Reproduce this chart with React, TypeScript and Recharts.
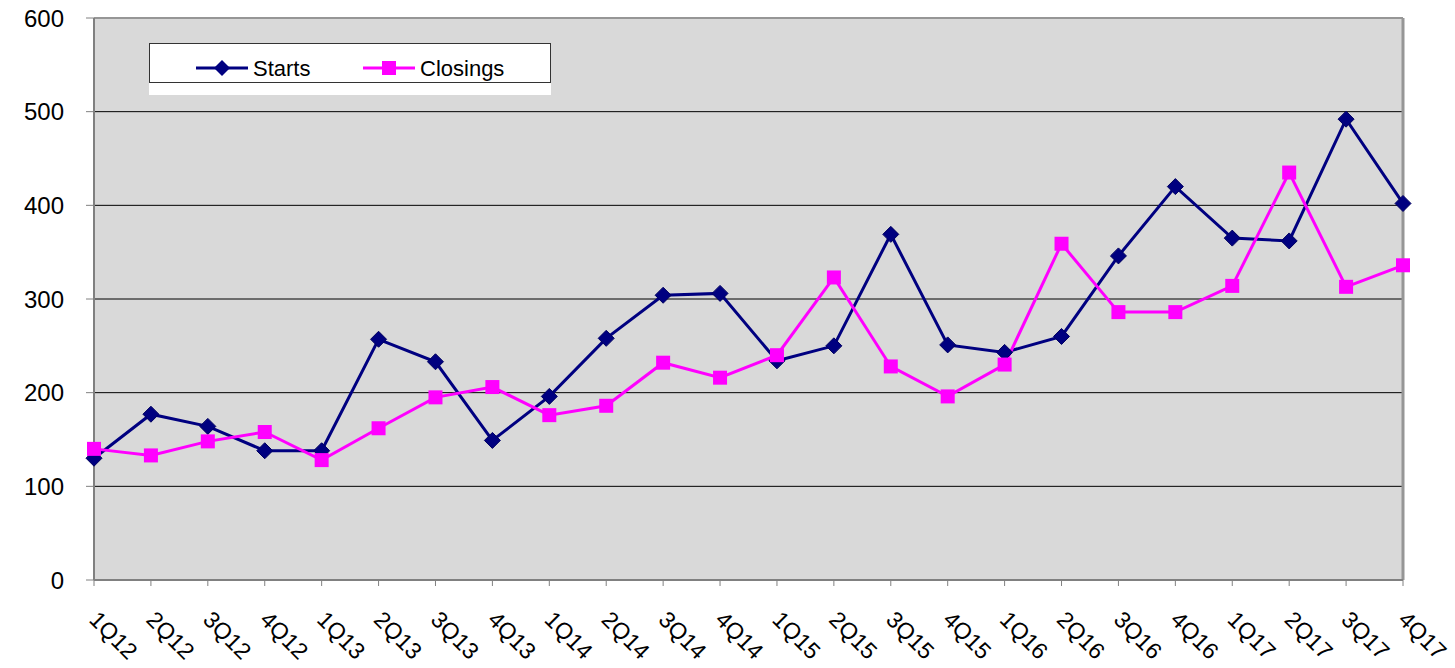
import React from "react"
import {
  CartesianGrid,
  Line,
  LineChart,
  ReferenceLine,
  XAxis,
  YAxis,
} from "recharts"

const quarters = [
  "1Q12", "2Q12", "3Q12", "4Q12",
  "1Q13", "2Q13", "3Q13", "4Q13",
  "1Q14", "2Q14", "3Q14", "4Q14",
  "1Q15", "2Q15", "3Q15", "4Q15",
  "1Q16", "2Q16", "3Q16", "4Q16",
  "1Q17", "2Q17", "3Q17", "4Q17",
]

const starts = [
  130, 177, 164, 138, 138, 257, 233, 149, 196, 258, 304, 306,
  234, 250, 369, 251, 243, 260, 346, 420, 365, 362, 492, 402,
]

const closings = [
  140, 133, 148, 158, 128, 162, 195, 206, 176, 186, 232, 216,
  240, 323, 228, 196, 230, 359, 286, 286, 314, 435, 313, 336,
]

const yTicks = [0, 100, 200, 300, 400, 500, 600]

const data = quarters.map((q, i) => ({ q, starts: starts[i], closings: closings[i] }))

const FONT = "'Liberation Sans', Arial, sans-serif"
const NAVY = "#000080"
const MAGENTA = "#ff00ff"

const Diamond = (props: any) => {
  const { cx, cy, index } = props
  const r = 8
  return (
    <polygon
      key={`d-${index}`}
      points={`${cx},${cy - r} ${cx + r},${cy} ${cx},${cy + r} ${cx - r},${cy}`}
      fill={NAVY}
      stroke="#000060"
      strokeWidth={1}
    />
  )
}

const Square = (props: any) => {
  const { cx, cy, index } = props
  const r = 7
  return <rect key={`s-${index}`} x={cx - r} y={cy - r} width={r * 2} height={r * 2} fill={MAGENTA} />
}

const XTick = (props: any) => {
  const { x, y, payload } = props
  const ax = x - 6
  const ay = y + 33
  return (
    <text
      x={ax}
      y={ay}
      transform={`rotate(45, ${ax}, ${ay})`}
      textAnchor="start"
      fontSize={23}
      fontFamily={FONT}
      fill="#000"
    >
      {payload.value}
    </text>
  )
}

// legend sits inside the plot, drawn over it so it doesn't shrink the plot area
const LegendBox = () => (
  <div
    style={{
      position: "absolute",
      left: 149,
      top: 43,
      width: 402,
      height: 52,
      background: "#fff",
      fontFamily: FONT,
    }}
  >
    <div
      style={{
        position: "absolute",
        left: 0,
        top: 0,
        width: 400,
        height: 38,
        border: "1px solid #333",
      }}
    />
    <svg width={402} height={52} style={{ position: "absolute", left: 0, top: 0 }}>
      <line x1={47} x2={99} y1={25} y2={25} stroke={NAVY} strokeWidth={3} />
      <polygon points="73,17 81,25 73,33 65,25" fill={NAVY} />
      <text x={104} y={33} fontSize={22} fontFamily={FONT} fill="#000">Starts</text>
      <line x1={214} x2={266} y1={25} y2={25} stroke={MAGENTA} strokeWidth={3} />
      <rect x={233} y={18} width={14} height={14} fill={MAGENTA} />
      <text x={271} y={33} fontSize={22} fontFamily={FONT} fill="#000">Closings</text>
    </svg>
  </div>
)

export default function App() {
  return (
    <div style={{ position: "absolute", left: 0, top: 0, background: "#fff" }}>
      <LineChart
        width={1455}
        height={668}
        data={data}
        margin={{ top: 18, right: 52, left: 0, bottom: 0 }}
      >
        <CartesianGrid vertical={false} fill="#d9d9d9" stroke="#000" strokeWidth={1} />
        <XAxis
          dataKey="q"
          interval={0}
          height={88}
          tickSize={6}
          axisLine={{ stroke: "#808080", strokeWidth: 2 }}
          tickLine={{ stroke: "#808080" }}
          tick={<XTick />}
        />
        <YAxis
          domain={[0, 600]}
          ticks={yTicks}
          width={94}
          tickSize={8}
          tickMargin={22}
          axisLine={{ stroke: "#808080", strokeWidth: 2 }}
          tickLine={{ stroke: "#808080" }}
          tick={{ fill: "#000", fontSize: 24, fontFamily: FONT }}
        />
        <ReferenceLine y={600} stroke="#969696" strokeWidth={2} />
        <ReferenceLine x="4Q17" stroke="#969696" strokeWidth={3} />
        <Line
          dataKey="starts"
          name="Starts"
          stroke={NAVY}
          strokeWidth={3}
          dot={Diamond}
          isAnimationActive={false}
        />
        <Line
          dataKey="closings"
          name="Closings"
          stroke={MAGENTA}
          strokeWidth={3}
          dot={Square}
          isAnimationActive={false}
        />
      </LineChart>
      <LegendBox />
    </div>
  )
}
